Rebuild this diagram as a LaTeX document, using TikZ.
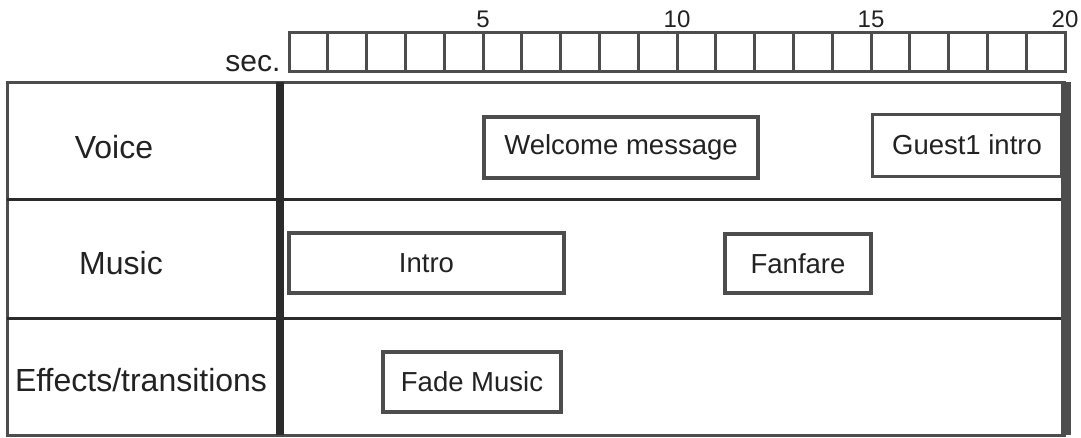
\documentclass[tikz,border=0pt]{standalone}
\usepackage{fontspec}
\setmainfont{Liberation Sans}
\usetikzlibrary{positioning}

\definecolor{linegray}{HTML}{4D4D4D}
\definecolor{textgray}{HTML}{222222}

\begin{document}
\begin{tikzpicture}[x=1pt,y=-1pt,line join=miter,
                    row label/.style={text=textgray,font=\fontsize{32}{36}\selectfont},
                    event box/.style={draw=linegray,line width=4pt,fill=white,text=textgray,
                      inner sep=0pt,font=\fontsize{27.5}{32}\selectfont},
                    tick box/.style={draw=linegray,line width=3pt,inner sep=0pt,outer sep=0pt,
                      minimum width=38.8pt,minimum height=39pt}]
  \useasboundingbox (0,0) rectangle (1081,437);

  % time scale
  \foreach \i in {1,...,20}
    \node[tick box] (c\i) at ({289+38.8*(\i-0.5)},51.5) {};
  \foreach \i in {5,10,15,20}
    \node[anchor=base,text=textgray,font=\fontsize{24}{26}\selectfont] (n\i) at (c\i.north east) [yshift=5pt] {\i};
  \node[anchor=base east,text=textgray,font=\fontsize{30}{34}\selectfont] (sec) at (284,71) {sec.};

  % table
  \draw[linegray,line width=3pt] (7,82) rectangle (1064,435);
  \draw[textgray!80!linegray,line width=3pt] (7,199) -- (1064,199)
                                            (7,318) -- (1064,318);
  \draw[textgray!80!linegray,line width=8pt] (280,82) -- (280,435);
  \draw[linegray,line width=10pt] (1066,82) -- (1066,435);

  \node[row label] (voice) at (114,147) {Voice};
  \node[row label] (music) at (121,263) {Music};
  \node[row label] (effects) at (141,380) {Effects/transitions};

  \node[event box,minimum width=274pt,minimum height=61pt] (welcome) at (621,147.5) {Welcome message};
  \node[event box,line width=3pt,minimum width=189pt,minimum height=62pt] (guest) at (967,145) {Guest1 intro};
  \node[event box,minimum width=275pt,minimum height=60pt] (intro) at (426.5,263) {Intro};
  \node[event box,minimum width=146pt,minimum height=59pt] (fanfare) at (798,263.5) {Fanfare};
  \node[event box,minimum width=178pt,minimum height=60pt] (fade) at (472,382) {Fade Music};
\end{tikzpicture}
\end{document}
